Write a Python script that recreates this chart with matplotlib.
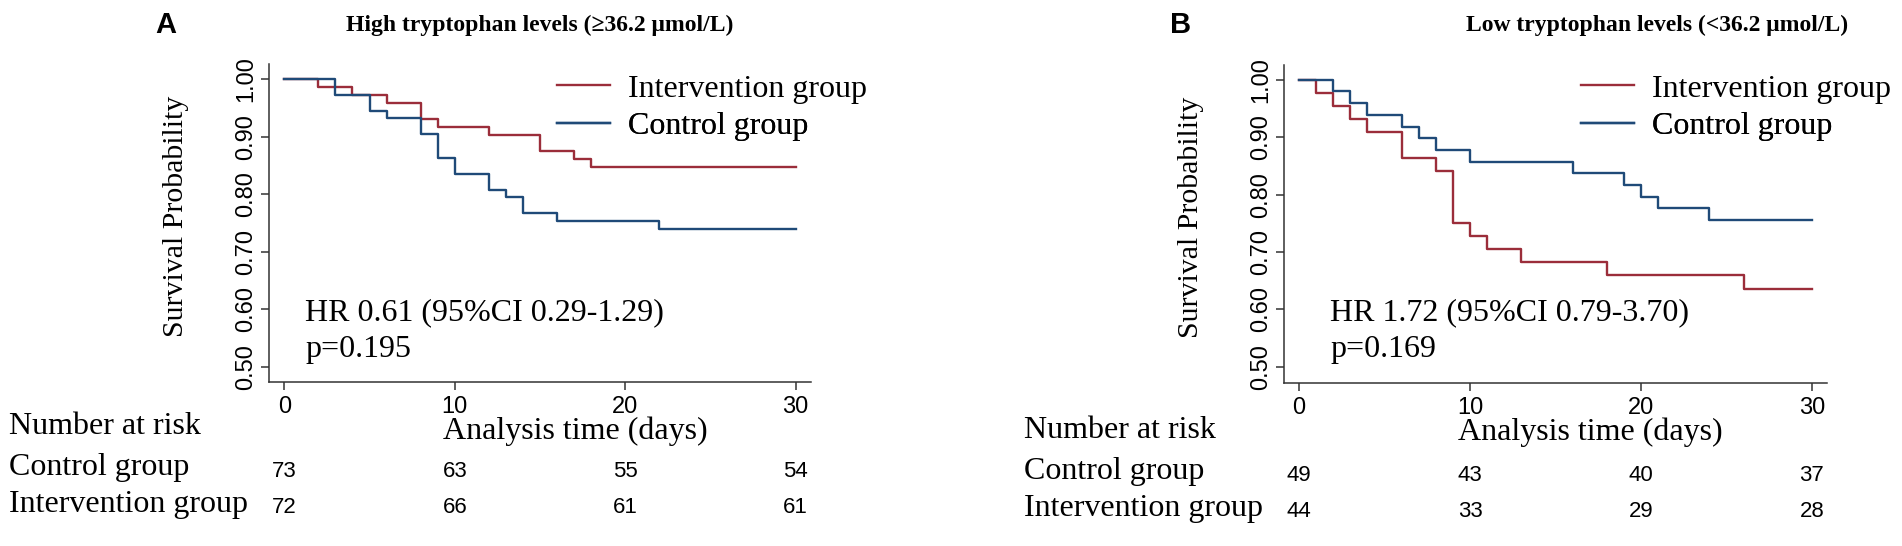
# Kaplan-Meier curves by tryptophan level, two panels with number-at-risk table

import matplotlib
matplotlib.use("Agg")
import matplotlib.pyplot as plt
from matplotlib.transforms import blended_transform_factory

# ---- data ----
# Panel A: high tryptophan
a_int_times = [0, 2, 4, 6, 8, 9, 12, 15, 17, 18, 30]
a_int_surv = [1.0, 0.986, 0.972, 0.958, 0.931, 0.917, 0.903, 0.875, 0.861, 0.847, 0.847]
a_ctl_times = [0, 3, 5, 6, 8, 9, 10, 12, 13, 14, 16, 22, 30]
a_ctl_surv = [1.0, 0.973, 0.945, 0.932, 0.904, 0.863, 0.836, 0.808, 0.795, 0.767, 0.753, 0.740, 0.740]

# Panel B: low tryptophan
b_int_times = [0, 1, 2, 3, 4, 6, 8, 9, 10, 11, 13, 18, 26, 30]
b_int_surv = [1.0, 0.977, 0.955, 0.932, 0.909, 0.864, 0.841, 0.750, 0.727, 0.705, 0.682, 0.659, 0.636, 0.636]
b_ctl_times = [0, 2, 3, 4, 6, 7, 8, 10, 16, 19, 20, 21, 24, 30]
b_ctl_surv = [1.0, 0.980, 0.959, 0.939, 0.918, 0.898, 0.878, 0.857, 0.837, 0.816, 0.796, 0.776, 0.755, 0.755]

risk_times = [0, 10, 20, 30]
a_risk_ctl = [73, 63, 55, 54]
a_risk_int = [72, 66, 61, 61]
b_risk_ctl = [49, 43, 40, 37]
b_risk_int = [44, 33, 29, 28]

x_ticks = [0, 10, 20, 30]
y_ticks = [0.5, 0.6, 0.7, 0.8, 0.9, 1.0]

titles = ["High tryptophan levels (\u226536.2 \u03bcmol/L)", "Low tryptophan levels (<36.2 \u03bcmol/L)"]
letters = ["A", "B"]
hr_texts = ["HR 0.61 (95%CI 0.29-1.29)", "HR 1.72 (95%CI 0.79-3.70)"]
p_texts = ["p=0.195", "p=0.169"]

RED = "#9b2d3a"
BLUE = "#1f4a78"
SERIF = ["Liberation Serif", "DejaVu Serif"]
SANS = ["Liberation Sans", "DejaVu Sans"]

W, H = 1902, 546


def fx(x):
    return x / W


def fy(y):
    return 1 - y / H


fig = plt.figure(figsize=(W / 100, H / 100), dpi=100)

# pixel boxes (left, top, right, bottom), x/y limits, and per-panel offsets
panels = [
    dict(box=(269.3, 64, 811, 382), xlim=(-0.88, 30.9), ylim=(0.4734, 1.0266),
         data=(a_int_times, a_int_surv, a_ctl_times, a_ctl_surv),
         risk=(a_risk_ctl, a_risk_int), dy=0, xlab_y=439,
         title_x=346, hr_x=305, leg_x=556.7),
    dict(box=(1284.3, 65, 1827, 383.3), xlim=(-0.86, 30.88), ylim=(0.471, 1.026),
         data=(b_int_times, b_int_surv, b_ctl_times, b_ctl_surv),
         risk=(b_risk_ctl, b_risk_int), dy=4, xlab_y=440,
         title_x=1466, hr_x=1330, leg_x=1580.6),
]

for i, p in enumerate(panels):
    l, t, r, b = p["box"]
    ax = fig.add_axes([fx(l), fy(b), (r - l) / W, (b - t) / H])
    it, isv, ct, csv = p["data"]
    h_int, = ax.step(it, isv, where="post", color=RED, lw=1.7, label="Intervention group")
    h_ctl, = ax.step(ct, csv, where="post", color=BLUE, lw=1.7, label="Control group")
    ax.set_xlim(*p["xlim"])
    ax.set_ylim(*p["ylim"])

    for s in ["top", "right"]:
        ax.spines[s].set_visible(False)
    for s in ["left", "bottom"]:
        ax.spines[s].set_linewidth(1.1)
        ax.spines[s].set_color("#333333")

    ax.set_xticks(x_ticks)
    ax.set_yticks(y_ticks)
    ax.set_yticklabels([f"{v:.2f}" for v in y_ticks])
    ax.tick_params(axis="both", length=6, width=1.1, color="#333333", labelsize=17)
    ax.tick_params(axis="x", pad=4)
    ax.tick_params(axis="y", labelrotation=90, pad=3)
    for lab in ax.get_xticklabels() + ax.get_yticklabels():
        lab.set_family(SANS)
    for lab in ax.get_yticklabels():
        lab.set_va("center")

    ax.set_ylabel("Survival Probability", fontsize=21.5, family=SERIF)
    ax.yaxis.set_label_coords(-80 / (r - l), 0.52)

    # legend: one row per entry so each row sits where the reference has it
    for h, row_y in [(h_int, 89), (h_ctl, 126)]:
        leg = ax.legend(handles=[h], loc="center left",
                        bbox_to_anchor=(fx(p["leg_x"]), fy(row_y)),
                        bbox_transform=fig.transFigure, frameon=False,
                        prop={"family": SERIF, "size": 23}, handlelength=1.66,
                        handletextpad=0.56, borderpad=0, borderaxespad=0)
        ax.add_artist(leg)

    # panel letter and title
    fig.text(fx(l - 114.3), fy(33), letters[i], fontsize=21, weight="bold", family=SANS)
    fig.text(fx(p["title_x"]), fy(31), titles[i], fontsize=17, weight="bold", family=SERIF)

    # HR annotation
    fig.text(fx(p["hr_x"]), fy(320), hr_texts[i], fontsize=23, family=SERIF)
    fig.text(fx(p["hr_x"]), fy(357), p_texts[i], fontsize=23, family=SERIF)

    # number-at-risk table
    dy = p["dy"]
    fig.text(fx(l - 260.3), fy(434 + dy), "Number at risk", fontsize=23, family=SERIF)
    fig.text(fx(l - 260.3), fy(475 + dy), "Control group", fontsize=23, family=SERIF)
    fig.text(fx(l - 260.3), fy(512 + dy), "Intervention group", fontsize=23, family=SERIF)
    fig.text(fx(l + 174), fy(p["xlab_y"]), "Analysis time (days)", fontsize=23, family=SERIF)

    tr = blended_transform_factory(ax.transData, fig.transFigure)
    ctl_n, int_n = p["risk"]
    for tt, n in zip(risk_times, ctl_n):
        ax.text(tt, fy(477 + dy), str(n), transform=tr, ha="center", va="baseline",
                fontsize=16, family=SANS, clip_on=False)
    for tt, n in zip(risk_times, int_n):
        ax.text(tt, fy(513 + dy), str(n), transform=tr, ha="center", va="baseline",
                fontsize=16, family=SANS, clip_on=False)

fig.savefig("out.png", dpi=100)
